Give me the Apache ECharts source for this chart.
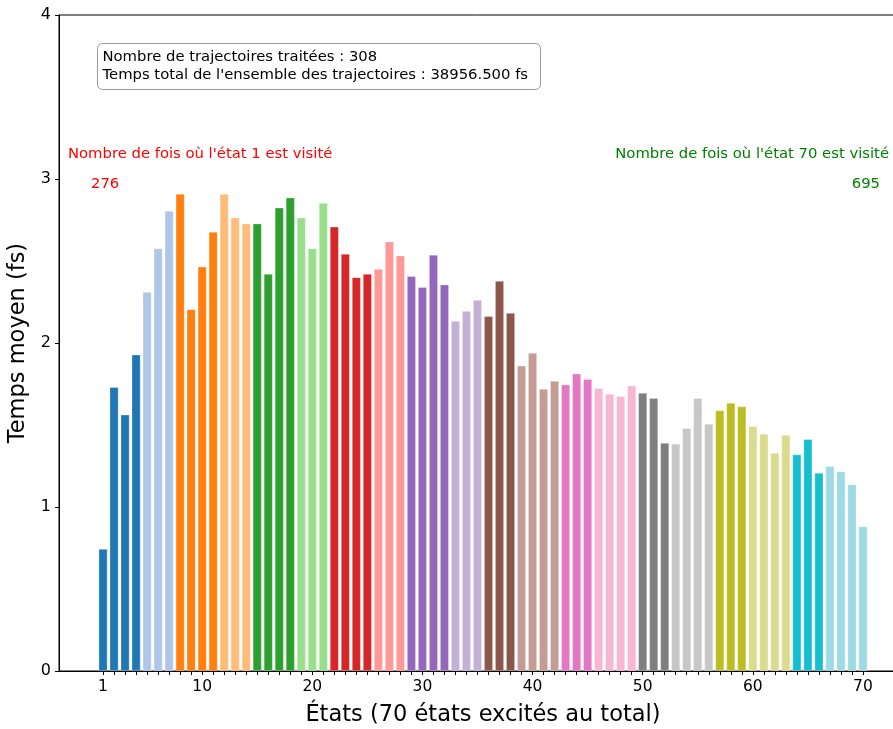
<!DOCTYPE html>
<html><head><meta charset="utf-8">
<script src="https://cdn.jsdelivr.net/npm/echarts@6/dist/echarts.min.js"></script>
<style>html,body{margin:0;padding:0;background:#fff}#c{width:893px;height:729px}</style>
</head><body><div id="c"></div>
<script>
// Data
const states = [1,2,3,4,5,6,7,8,9,10,11,12,13,14,15,16,17,18,19,20,21,22,23,24,25,26,27,28,29,30,31,32,33,34,35,36,37,38,39,40,41,42,43,44,45,46,47,48,49,50,51,52,53,54,55,56,57,58,59,60,61,62,63,64,65,66,67,68,69,70];
const meanTimes = [0.744,1.730,1.563,1.929,2.311,2.577,2.805,2.909,2.205,2.465,
  2.677,2.909,2.764,2.728,2.728,2.421,2.825,2.886,2.764,2.577,
  2.854,2.709,2.543,2.400,2.421,2.451,2.618,2.533,2.407,2.340,
  2.537,2.356,2.134,2.195,2.262,2.163,2.378,2.183,1.862,1.939,
  1.720,1.768,1.746,1.813,1.780,1.724,1.690,1.675,1.740,1.696,
  1.663,1.391,1.385,1.480,1.663,1.507,1.589,1.635,1.613,1.493,
  1.446,1.330,1.439,1.320,1.413,1.208,1.249,1.217,1.137,0.882];
const xTickLabels = [1,10,20,30,40,50,60,70];
const yTickLabels = [0,1,2,3,4];
const infoLines = ["Nombre de trajectoires traitées : 308", "Temps total de l'ensemble des trajectoires : 38956.500 fs"];
const firstStateText = "Nombre de fois où l'état 1 est visité";
const firstStateCount = "276";
const lastStateText = "Nombre de fois où l'état 70 est visité";
const lastStateCount = "695";

const tab20 = ['#1f77b4','#aec7e8','#ff7f0e','#ffbb78','#2ca02c','#98df8a','#d62728','#ff9896','#9467bd','#c5b0d5',
  '#8c564b','#c49c94','#e377c2','#f7b6d2','#7f7f7f','#c7c7c7','#bcbd22','#dbdb8d','#17becf','#9edae5'];
const n = states.length;
const colorOf = i => tab20[Math.min(19, Math.floor(20 * i / (n - 1)))];
const F = 'DejaVu Sans';
const TF = '14.8px "DejaVu Sans"';

const chart = echarts.init(document.getElementById('c'), null, {renderer: 'canvas'});
chart.setOption({
  animation: false,
  grid: {left: 59, right: -14, top: 15, bottom: 58, outerBoundsMode: 'none', containLabel: false,
         show: true, borderColor: '#000', borderWidth: 1},
  xAxis: {
    type: 'value', min: -3, max: 74,
    name: 'États (70 états excités au total)', nameLocation: 'middle', nameGap: 33,
    nameTextStyle: {fontFamily: F, fontSize: 22.5, color: '#000'},
    axisLine: {show: true, onZero: false, lineStyle: {color: '#000', width: 1}},
    axisTick: {show: true, length: 4, lineStyle: {color: '#000'}, customValues: states},
    axisLabel: {fontFamily: F, fontSize: 15.5, color: '#000', margin: 8, customValues: xTickLabels},
    splitLine: {show: false}
  },
  yAxis: {
    type: 'value', min: 0, max: 4, interval: 1,
    name: 'Temps moyen (fs)', nameLocation: 'middle', nameGap: 21,
    nameTextStyle: {fontFamily: F, fontSize: 22.5, color: '#000'},
    axisLine: {show: true, onZero: false, lineStyle: {color: '#000', width: 1}},
    axisTick: {show: true, length: 4, lineStyle: {color: '#000'}},
    axisLabel: {fontFamily: F, fontSize: 16, color: '#000', margin: 8},
    splitLine: {show: false}
  },
  series: [{
    type: 'bar',
    barWidth: 8.8,
    data: states.map((s, i) => [s, meanTimes[i]]),
    itemStyle: {
      color: p => colorOf(p.dataIndex),
      borderColor: 'rgba(255,255,255,0.5)', borderWidth: 0.6
    }
  }],
  graphic: [
    {type: 'rect', shape: {x: 97.5, y: 43.5, width: 443, height: 46, r: 5},
     style: {fill: '#fff', stroke: '#999', lineWidth: 1}},
    {type: 'text', x: 102.5, y: 57.5, style: {text: infoLines[0], font: TF, fill: '#000', verticalAlign: 'middle'}},
    {type: 'text', x: 102.5, y: 75.5, style: {text: infoLines[1], font: TF, fill: '#000', verticalAlign: 'middle'}},
    {type: 'text', x: 68, y: 154, style: {text: firstStateText, font: TF, fill: '#ff0000', verticalAlign: 'middle'}},
    {type: 'text', x: 91, y: 184, style: {text: firstStateCount, font: TF, fill: '#ff0000', verticalAlign: 'middle'}},
    {type: 'text', x: 889, y: 154, style: {text: lastStateText, font: TF, fill: '#008000', align: 'right', verticalAlign: 'middle'}},
    {type: 'text', x: 880, y: 184, style: {text: lastStateCount, font: TF, fill: '#008000', align: 'right', verticalAlign: 'middle'}}
  ]
});
</script></body></html>
